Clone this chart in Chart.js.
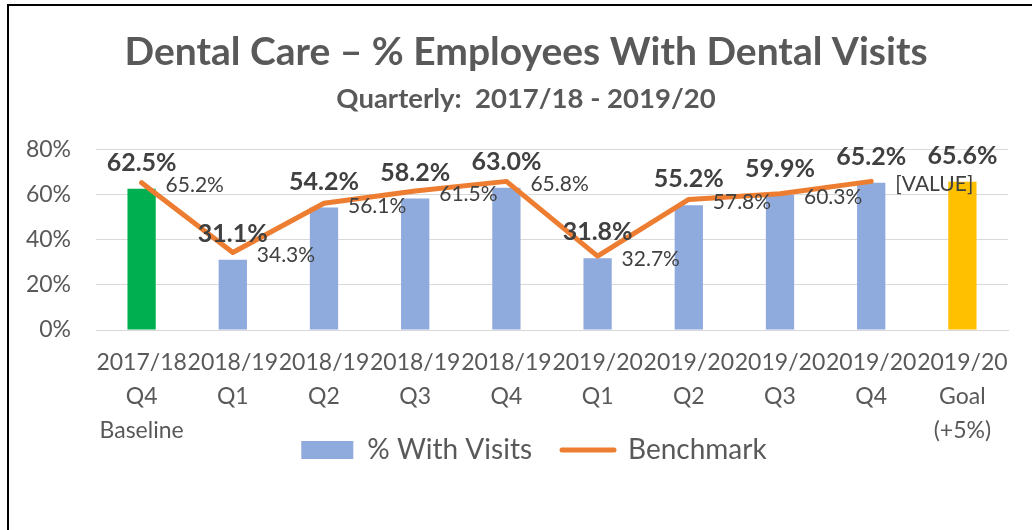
<!DOCTYPE html>
<html>
<head>
<meta charset="utf-8">
<script src="https://cdn.jsdelivr.net/npm/chart.js@4.4.1/dist/chart.umd.min.js"></script>
<style>
html,body{margin:0;padding:0;background:#fff;overflow:hidden;}
#wrap{position:relative;width:1032px;height:530px;overflow:hidden;background:#fff;}
#frame{position:absolute;left:7px;top:4px;width:1100px;height:600px;border-top:2px solid #000;border-left:2px solid #000;pointer-events:none;}
canvas{display:block;}
</style>
</head>
<body>
<div id="wrap"><canvas id="c" width="1032" height="530"></canvas><div id="frame"></div></div>
<script>
// ---- data ----
const categories = [
  ["2017/18", "Q4", "Baseline"],
  ["2018/19", "Q1"],
  ["2018/19", "Q2"],
  ["2018/19", "Q3"],
  ["2018/19", "Q4"],
  ["2019/20", "Q1"],
  ["2019/20", "Q2"],
  ["2019/20", "Q3"],
  ["2019/20", "Q4"],
  ["2019/20", "Goal", "(+5%)"]
];
const visits = [62.5, 31.1, 54.2, 58.2, 63.0, 31.8, 55.2, 59.9, 65.2, 65.6];
const benchmark = [65.2, 34.3, 56.1, 61.5, 65.8, 32.7, 57.8, 60.3, 65.8, null];
const benchmarkLabelOverrides = [null, null, null, null, null, null, null, null, "[VALUE]", null];
const barColors = ["#00B050", "#8FAADC", "#8FAADC", "#8FAADC", "#8FAADC", "#8FAADC", "#8FAADC", "#8FAADC", "#8FAADC", "#FFC000"];
const yTicks = [0, 20, 40, 60, 80];
const titleText = "Dental Care \u2013 % Employees With Dental Visits";
const subtitleText = "Quarterly:  2017/18 - 2019/20";

const FONT = "Lato, 'Open Sans', sans-serif";
const fmt = v => v.toFixed(1) + "%";

const valueLabels = {
  id: "valueLabels",
  afterDatasetsDraw(chart) {
    const ctx = chart.ctx;
    ctx.save();
    ctx.textBaseline = "middle";
    const lm = chart.getDatasetMeta(1);
    ctx.font = "21px " + FONT;
    ctx.fillStyle = "#404040";
    ctx.textAlign = "left";
    lm.data.forEach((el, i) => {
      if (benchmark[i] == null) return;
      const t = benchmarkLabelOverrides[i] || fmt(benchmark[i]);
      ctx.fillText(t, el.x + 24, el.y + 3);
    });
    const bm = chart.getDatasetMeta(0);
    ctx.font = "bold 25px " + FONT;
    ctx.fillStyle = "#404040";
    ctx.textAlign = "center";
    bm.data.forEach((el, i) => {
      ctx.fillText(fmt(visits[i]), el.x, el.y - 26);
    });
    ctx.restore();
  }
};

const LEGEND_PAD = 30;
const LEGEND_FONT = 28;
const legendShift = {
  id: "legendShift",
  afterLayout(chart) {
    const lg = chart.legend;
    if (!lg) return;
    const dx = 534 - (lg.left + lg.right) / 2;
    lg.left += dx;
    lg.right += dx;
    const dy = (450 - LEGEND_PAD - LEGEND_FONT / 2) - lg.top;
    lg.top += dy;
    lg.bottom += dy;
  }
};

new Chart(document.getElementById("c"), {
  type: "bar",
  data: {
    labels: categories,
    datasets: [
      {
        type: "bar",
        label: "% With Visits",
        data: visits,
        backgroundColor: barColors,
        barPercentage: 0.31,
        categoryPercentage: 1.0,
        order: 1
      },
      {
        type: "line",
        label: "Benchmark",
        data: benchmark,
        borderColor: "#ED7D31",
        backgroundColor: "#ED7D31",
        borderWidth: 5,
        borderCapStyle: "round",
        borderJoinStyle: "round",
        pointRadius: 0,
        tension: 0,
        order: 0
      }
    ]
  },
  options: {
    responsive: false,
    animation: false,
    devicePixelRatio: 1,
    layout: { padding: { top: 0, left: 20, right: 0, bottom: 14 } },
    plugins: {
      tooltip: { enabled: false },
      title: {
        display: true,
        text: titleText,
        color: "#595959",
        font: { family: FONT, size: 39, weight: "bold", lineHeight: 1.2 },
        padding: { top: 28.6, bottom: 7.1 }
      },
      subtitle: {
        display: true,
        text: subtitleText,
        color: "#595959",
        font: { family: FONT, size: 27.5, weight: "bold", lineHeight: 1.2 },
        padding: { top: 0, bottom: 33.8 }
      },
      legend: {
        position: "bottom",
        align: "center",
        labels: {
          sort: (a, b) => a.datasetIndex - b.datasetIndex,
          usePointStyle: true,
          pointStyleWidth: 52,
          boxWidth: 52,
          boxHeight: 18,
          padding: LEGEND_PAD,
          color: "#595959",
          font: { family: FONT, size: LEGEND_FONT },
          generateLabels(chart) {
            const items = Chart.defaults.plugins.legend.labels.generateLabels(chart);
            items.forEach(it => {
              if (it.datasetIndex === 0) {
                it.fillStyle = "#8FAADC";
                it.strokeStyle = "#8FAADC";
                it.lineWidth = 0;
                it.pointStyle = "rect";
              } else {
                it.pointStyle = "line";
                it.strokeStyle = "#ED7D31";
                it.lineWidth = 5;
                it.lineCap = "round";
              }
            });
            return items;
          }
        }
      }
    },
    scales: {
      x: {
        grid: { display: false, drawTicks: false },
        border: { display: true, color: "#D9D9D9", width: 1 },
        ticks: {
          autoSkip: false,
          maxRotation: 0,
          minRotation: 0,
          padding: 16,
          color: "#595959",
          font: { family: FONT, size: 23, lineHeight: 34 / 23 }
        },
        afterFit(s) { s.height = 118; }
      },
      y: {
        min: 0,
        max: 80,
        afterBuildTicks(s) { s.ticks = yTicks.map(v => ({ value: v })); },
        grid: { color: "#D9D9D9", lineWidth: 1, drawTicks: false },
        border: { display: false },
        ticks: {
          padding: 25,
          color: "#595959",
          font: { family: FONT, size: 23 },
          callback: v => v + "%"
        },
        afterFit(s) { s.width = 76; }
      },
      yRight: {
        type: "linear",
        position: "right",
        display: true,
        min: 0,
        max: 80,
        grid: { display: false, drawTicks: false },
        border: { display: false },
        ticks: { display: false },
        afterFit(s) { s.width = 24; }
      }
    }
  },
  plugins: [valueLabels, legendShift]
});
</script>
</body>
</html>
